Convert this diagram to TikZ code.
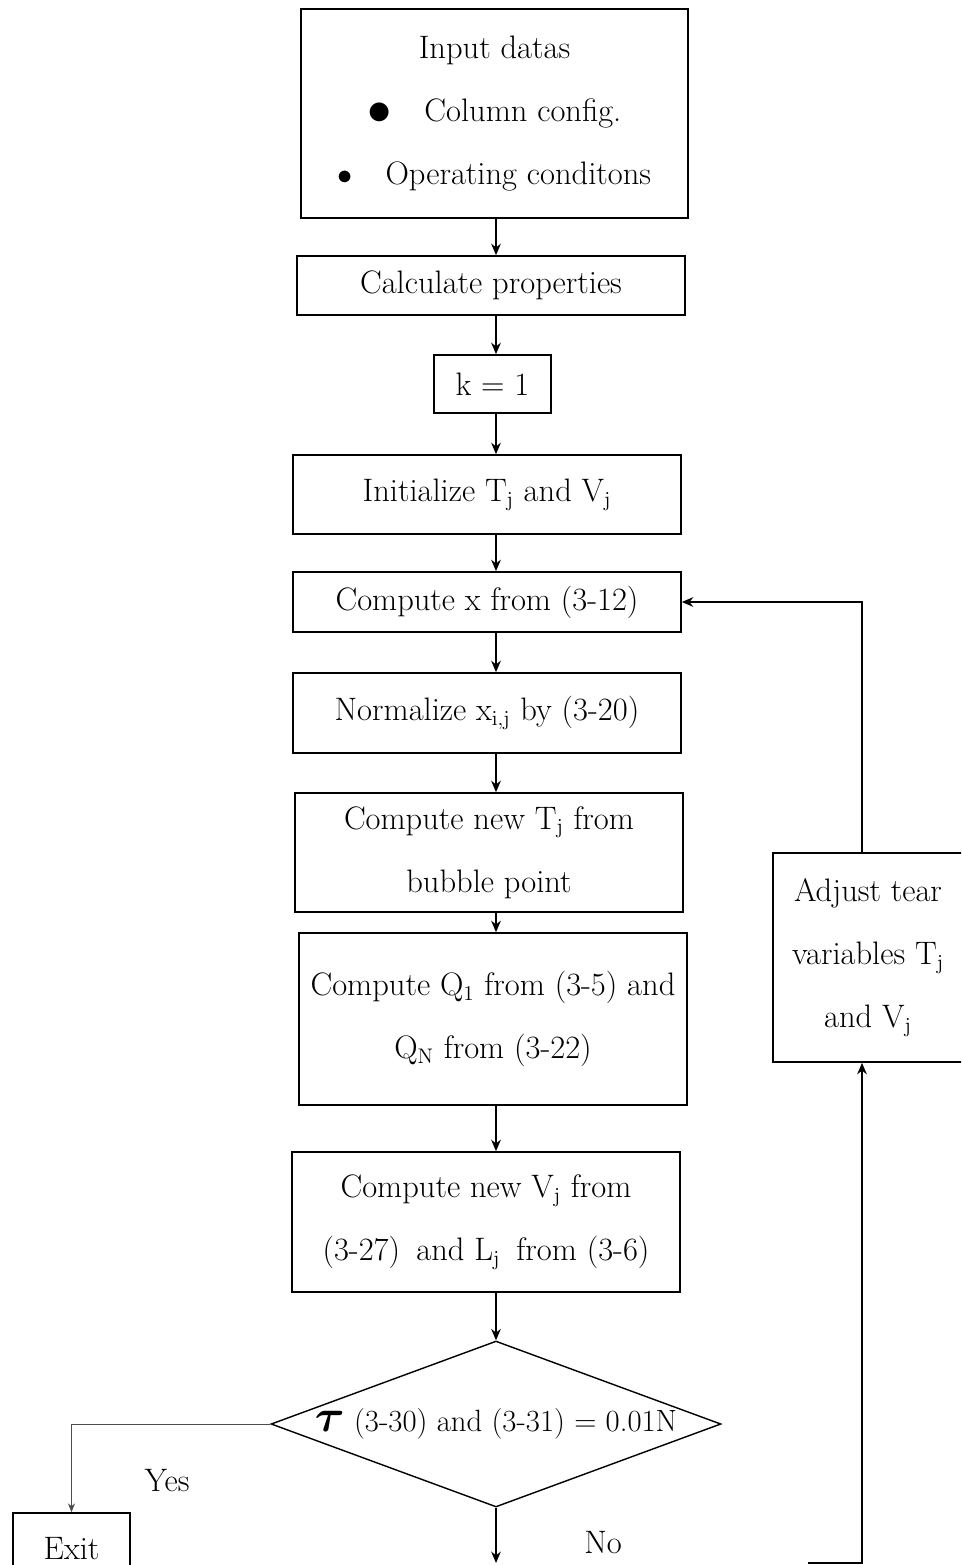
\documentclass[tikz,border=0pt]{standalone}
\usepackage{amsmath}
\usepackage{amssymb}
\usepackage{tikz}
\usetikzlibrary{shapes.geometric, arrows, arrows.meta, positioning}
\tikzstyle{procbox} = [rectangle, draw=black, line width=1pt, text centered, align=center, inner sep=0pt]
\tikzstyle{decision} = [diamond, draw=black, line width=0.8pt, inner sep=0pt]
\tikzstyle{arrow} = [thick,->,>={Stealth[length=6.5pt,width=5.5pt]}]
\tikzstyle{thinarrow} = [->,>={Stealth[length=5pt,width=4pt]}, black!70]
\def\bigfont{\fontsize{18.5}{36}\selectfont}

\begin{document}
\begin{tikzpicture}[x=0.02cm, y=-0.02cm, font=\bigfont]
\useasboundingbox (0,0) rectangle (961,1565);
\clip (0,0) rectangle (961,1565);
\coordinate (spine) at (496,0);
\coordinate (loopcol) at (862,0);

\node (input) [procbox, minimum width=7.74cm, minimum height=4.18cm] at (494.5,113.5)
  {Input datas\\ \raisebox{-0.2ex}{\scalebox{1.6}{$\bullet$}}\quad Column config.\\ $\bullet$\quad Operating conditons};
\node (calc) [procbox, minimum width=7.76cm, minimum height=1.18cm] at (491,285.5) {Calculate properties};
\node (kinit) [procbox, minimum width=2.34cm, minimum height=1.16cm] at (492.5,384) {k = 1};
\node (init) [procbox, minimum width=7.76cm, minimum height=1.58cm] at (487,494.5) {Initialize T$_\mathrm{j}$ and V$_\mathrm{j}$};
\node (compx) [procbox, minimum width=7.76cm, minimum height=1.2cm] at (487,602) {Compute x from (3-12)};
\node (norm) [procbox, minimum width=7.76cm, minimum height=1.6cm] at (487,713) {Normalize x$_{\mathrm{i,j}}$ by (3-20)};
\node (newT) [procbox, minimum width=7.76cm, minimum height=2.38cm] at (489,852.5) {Compute new T$_\mathrm{j}$ from\\ bubble point};
\node (compQ) [procbox, minimum width=7.76cm, minimum height=3.44cm] at (493,1019) {Compute Q$_1$ from (3-5) and\\ Q$_\mathrm{N}$ from (3-22)};
\node (newV) [procbox, minimum width=7.76cm, minimum height=2.8cm] at (486,1222) {Compute new V$_\mathrm{j}$ from\\ (3-27)\enspace and L$_\mathrm{j}$\enspace from (3-6)};
\node (check) [decision, minimum width=9cm, minimum height=3.32cm] at (496,1424)
  {\raisebox{0.1cm}{\makebox[0pt]{\fontsize{17.5}{20}\selectfont\scalebox{1.5}{\boldmath$\tau$} (3-30) and (3-31) = 0.01N}}};
\node (exit) [procbox, minimum width=2.34cm, minimum height=1.44cm] at (71.5,1549) {Exit};
\node (adjust) [procbox, minimum width=3.8cm, minimum height=4.18cm] at (868,957.5) {Adjust tear\\ variables T$_\mathrm{j}$\\ and V$_\mathrm{j}$};

\node (yes) at (167,1481) {Yes};
\node (no) at (603,1543) {No};

\draw [arrow] (input.south -| spine) -- (calc.north -| spine);
\draw [arrow] (calc.south -| spine) -- (kinit.north -| spine);
\draw [arrow] (kinit.south -| spine) -- (init.north -| spine);
\draw [arrow] (init.south -| spine) -- (compx.north -| spine);
\draw [arrow] (compx.south -| spine) -- (norm.north -| spine);
\draw [arrow] (norm.south -| spine) -- (newT.north -| spine);
\draw [arrow] (newT.south -| spine) -- (compQ.north -| spine);
\draw [arrow] (compQ.south -| spine) -- (newV.north -| spine);
\draw [arrow] (newV.south -| spine) -- (check.north);

% yes branch
\draw [thinarrow] (check.west) -| (exit.north);

% no branch, back round to the tear variables
\coordinate (nobottom) at (496,1563);
\coordinate (loopstart) at (808,1563);
\draw [arrow] (check.south) -- (nobottom);
\draw [arrow] (loopstart) -- (loopstart -| loopcol) -- (adjust.south -| loopcol);
\draw [arrow] (adjust.north -| loopcol) |- (compx.east);

\end{tikzpicture}
\end{document}
